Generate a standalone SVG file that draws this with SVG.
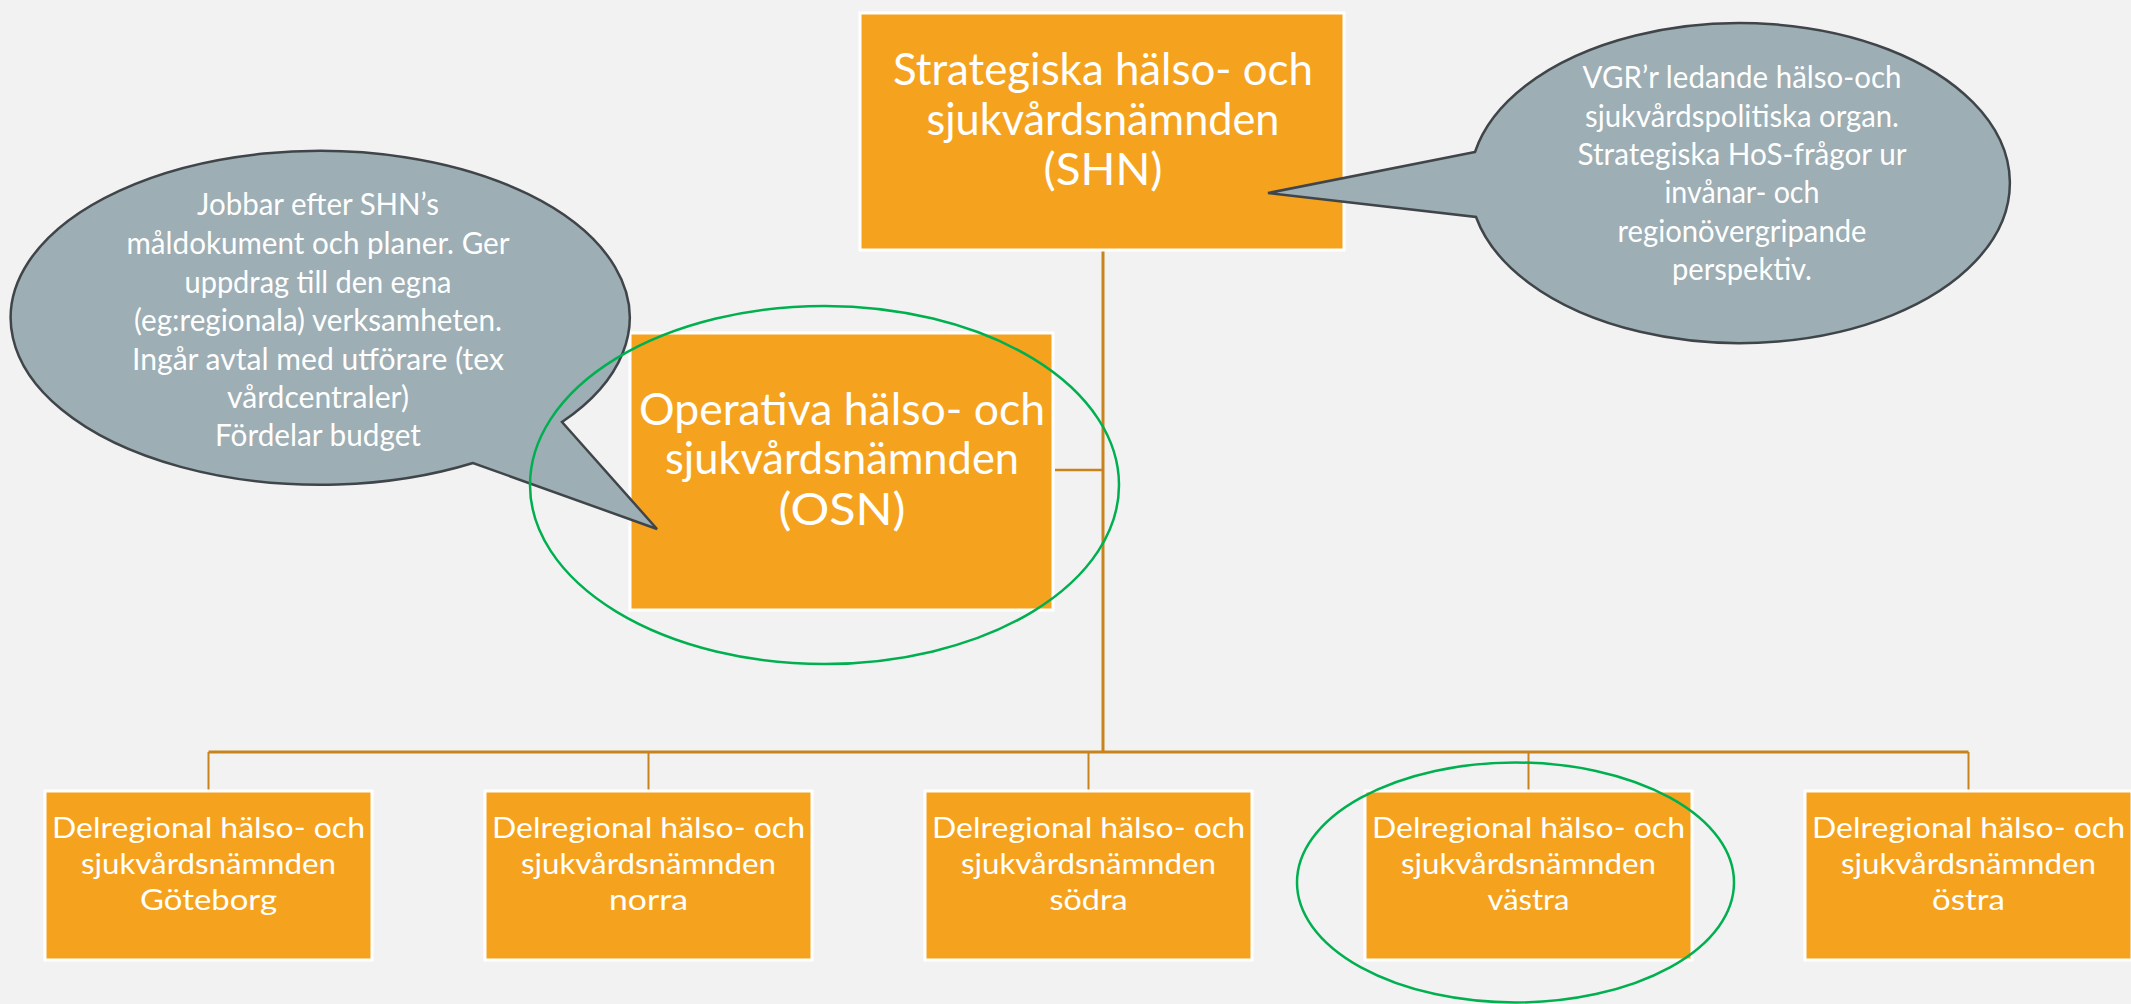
<svg xmlns="http://www.w3.org/2000/svg" width="2131" height="1004" viewBox="0 0 2131 1004">
<style>
.bg{fill:#F2F2F2}
.box{fill:#F5A31E;stroke:#FFFFFF;stroke-width:3}
.t{font-family:Lato,"Noto Sans",sans-serif;fill:#FFFFFF;text-anchor:middle}
.big{font-size:45px}
.mid{font-size:31px}
.sm{font-size:29px}
.callout{fill:#9DAEB4;stroke:#3F4548;stroke-width:2.5;stroke-linejoin:miter}
.ring{fill:none;stroke:#00B050;stroke-width:2.5}
.conn{stroke:#C8831C;fill:none}
</style>
<rect class="bg" x="0" y="0" width="2131" height="1004"/>

<g id="connectors">
  <line class="conn" stroke-width="3" x1="1103" y1="251" x2="1103" y2="752"/>
  <line class="conn" stroke-width="2.5" x1="1055" y1="470" x2="1103" y2="470"/>
  <line class="conn" stroke-width="3" x1="208.5" y1="752" x2="1968.5" y2="752"/>
  <line class="conn" stroke-width="2" x1="208.5" y1="752" x2="208.5" y2="791"/>
  <line class="conn" stroke-width="2" x1="648.5" y1="752" x2="648.5" y2="791"/>
  <line class="conn" stroke-width="2" x1="1088.5" y1="752" x2="1088.5" y2="791"/>
  <line class="conn" stroke-width="2" x1="1528.5" y1="752" x2="1528.5" y2="791"/>
  <line class="conn" stroke-width="2" x1="1968.5" y1="752" x2="1968.5" y2="791"/>
</g>

<g id="shn">
  <rect class="box" x="860" y="13" width="484" height="237"/>
  <text class="t big" x="1103" y="85" textLength="420" lengthAdjust="spacingAndGlyphs">Strategiska hälso- och</text>
  <text class="t big" x="1103" y="135" textLength="353" lengthAdjust="spacingAndGlyphs">sjukvårdsnämnden</text>
  <text class="t big" x="1103" y="185" textLength="119" lengthAdjust="spacingAndGlyphs">(SHN)</text>
</g>

<g id="osn">
  <rect class="box" x="630" y="333" width="423" height="277"/>
  <text class="t big" x="842" y="425" textLength="406" lengthAdjust="spacingAndGlyphs">Operativa hälso- och</text>
  <text class="t big" x="842" y="474" textLength="354" lengthAdjust="spacingAndGlyphs">sjukvårdsnämnden</text>
  <text class="t big" x="842" y="525" textLength="127" lengthAdjust="spacingAndGlyphs">(OSN)</text>
</g>

<g id="callout-shn">
  <path class="callout" d="M1475,152 L1268,193 L1476,217 A270,160 0 1 0 1475,152 Z"/>
  <text class="t mid" x="1742" y="88" textLength="319" lengthAdjust="spacingAndGlyphs">VGR’r ledande hälso-och</text>
  <text class="t mid" x="1742" y="127" textLength="314" lengthAdjust="spacingAndGlyphs">sjukvårdspolitiska organ.</text>
  <text class="t mid" x="1742" y="165" textLength="329" lengthAdjust="spacingAndGlyphs">Strategiska HoS-frågor ur</text>
  <text class="t mid" x="1742" y="203" textLength="155" lengthAdjust="spacingAndGlyphs">invånar- och</text>
  <text class="t mid" x="1742" y="242" textLength="249" lengthAdjust="spacingAndGlyphs">regionövergripande</text>
  <text class="t mid" x="1742" y="280" textLength="140" lengthAdjust="spacingAndGlyphs">perspektiv.</text>
</g>

<g id="callout-osn">
  <path class="callout" d="M562,422 L657,529 L473,463 A309.5,167 0 1 1 562,422 Z"/>
  <text class="t mid" x="318" y="215" textLength="242" lengthAdjust="spacingAndGlyphs">Jobbar efter SHN’s</text>
  <text class="t mid" x="318" y="254" textLength="383" lengthAdjust="spacingAndGlyphs">måldokument och planer. Ger</text>
  <text class="t mid" x="318" y="293" textLength="267" lengthAdjust="spacingAndGlyphs">uppdrag till den egna</text>
  <text class="t mid" x="318" y="331" textLength="368" lengthAdjust="spacingAndGlyphs">(eg:regionala) verksamheten.</text>
  <text class="t mid" x="318" y="370" textLength="372" lengthAdjust="spacingAndGlyphs">Ingår avtal med utförare (tex</text>
  <text class="t mid" x="318" y="408" textLength="182" lengthAdjust="spacingAndGlyphs">vårdcentraler)</text>
  <text class="t mid" x="318" y="446" textLength="206" lengthAdjust="spacingAndGlyphs">Fördelar budget</text>
</g>

<g id="dhn-goteborg">
  <rect class="box" x="45" y="791" width="327" height="169"/>
  <text class="t sm" x="208.5" y="838" textLength="313" lengthAdjust="spacingAndGlyphs">Delregional hälso- och</text>
  <text class="t sm" x="208.5" y="874" textLength="255" lengthAdjust="spacingAndGlyphs">sjukvårdsnämnden</text>
  <text class="t sm" x="208.5" y="910" textLength="137" lengthAdjust="spacingAndGlyphs">Göteborg</text>
</g>
<g id="dhn-norra">
  <rect class="box" x="485" y="791" width="327" height="169"/>
  <text class="t sm" x="648.5" y="838" textLength="313" lengthAdjust="spacingAndGlyphs">Delregional hälso- och</text>
  <text class="t sm" x="648.5" y="874" textLength="255" lengthAdjust="spacingAndGlyphs">sjukvårdsnämnden</text>
  <text class="t sm" x="648.5" y="910" textLength="79" lengthAdjust="spacingAndGlyphs">norra</text>
</g>
<g id="dhn-sodra">
  <rect class="box" x="925" y="791" width="327" height="169"/>
  <text class="t sm" x="1088.5" y="838" textLength="313" lengthAdjust="spacingAndGlyphs">Delregional hälso- och</text>
  <text class="t sm" x="1088.5" y="874" textLength="255" lengthAdjust="spacingAndGlyphs">sjukvårdsnämnden</text>
  <text class="t sm" x="1088.5" y="910" textLength="78" lengthAdjust="spacingAndGlyphs">södra</text>
</g>
<g id="dhn-vastra">
  <rect class="box" x="1365" y="791" width="327" height="169"/>
  <text class="t sm" x="1528.5" y="838" textLength="313" lengthAdjust="spacingAndGlyphs">Delregional hälso- och</text>
  <text class="t sm" x="1528.5" y="874" textLength="255" lengthAdjust="spacingAndGlyphs">sjukvårdsnämnden</text>
  <text class="t sm" x="1528.5" y="910" textLength="82" lengthAdjust="spacingAndGlyphs">västra</text>
</g>
<g id="dhn-ostra">
  <rect class="box" x="1805" y="791" width="327" height="169"/>
  <text class="t sm" x="1968.5" y="838" textLength="313" lengthAdjust="spacingAndGlyphs">Delregional hälso- och</text>
  <text class="t sm" x="1968.5" y="874" textLength="255" lengthAdjust="spacingAndGlyphs">sjukvårdsnämnden</text>
  <text class="t sm" x="1968.5" y="910" textLength="73" lengthAdjust="spacingAndGlyphs">östra</text>
</g>

<g id="highlights">
  <ellipse class="ring" cx="824.5" cy="485" rx="294.5" ry="179"/>
  <ellipse class="ring" cx="1515.5" cy="882.5" rx="218.5" ry="120"/>
</g>
</svg>
